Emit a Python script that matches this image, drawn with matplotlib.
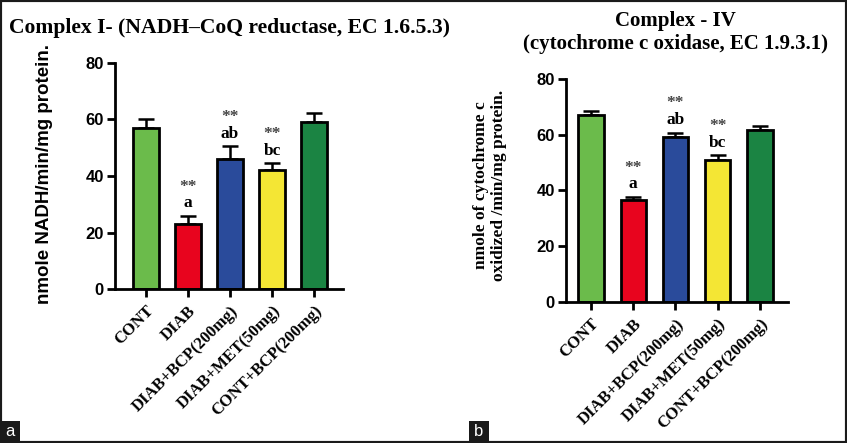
import numpy as np
import matplotlib
matplotlib.use('Agg')
import matplotlib.pyplot as plt
from matplotlib.patches import Rectangle

groups = ['CONT', 'DIAB', 'DIAB+BCP(200mg)', 'DIAB+MET(50mg)', 'CONT+BCP(200mg)']
colors = ['#6bbb4b', '#e8041e', '#2a4b9b', '#f4e634', '#1b8443']

complex1_mean = [57.1, 23.1, 45.9, 42.0, 59.1]
complex1_err = [3.0, 2.8, 4.7, 2.6, 3.1]
complex4_mean = [67.1, 36.5, 59.3, 50.9, 61.7]
complex4_err = [1.5, 1.2, 1.5, 1.7, 1.6]

sig_stars = ['', '**', '**', '**', '']
sig_letters = ['', 'a', 'ab', 'bc', '']

SERIF = ['Liberation Serif', 'DejaVu Serif']
SANS = ['Liberation Sans', 'DejaVu Sans']

fig = plt.figure(figsize=(8.47, 4.43), dpi=100)

def draw_panel(ax, means, errs, xlim):
    x = np.arange(len(groups))
    ax.bar(x, means, width=0.6, color=colors, edgecolor='black', linewidth=2.0, zorder=2)
    ax.errorbar(x, means, yerr=[np.zeros(len(errs)), errs], fmt='none', ecolor='black',
                elinewidth=1.8, capsize=6, capthick=1.8, zorder=1)
    for i in range(len(groups)):
        top = means[i] + errs[i]
        if sig_letters[i]:
            ax.annotate(sig_letters[i], (x[i], top), xytext=(0, 9), textcoords='offset points',
                        ha='center', va='center', fontsize=12.5, fontweight='bold', family=SERIF)
            ax.annotate(sig_stars[i], (x[i], top), xytext=(0, 21), textcoords='offset points',
                        ha='center', va='center', fontsize=12.5, fontweight='bold', family=SERIF,
                        color='#444444')
    ax.set_xlim(*xlim)
    ax.set_ylim(0, 80)
    ax.set_yticks([0, 20, 40, 60, 80])
    ax.set_xticks(x)
    ax.set_xticklabels(groups, rotation=45, ha='right', va='top', rotation_mode='anchor',
                       fontsize=12, fontweight='bold', family=SERIF)
    for lab in ax.get_yticklabels():
        lab.set_fontsize(12)
        lab.set_fontweight('bold')
        lab.set_family(SANS)
    for s in ['top', 'right']:
        ax.spines[s].set_visible(False)
    for s in ['left', 'bottom']:
        ax.spines[s].set_linewidth(2.0)
    ax.tick_params(axis='both', width=2.0, length=6, pad=2)
    ax.tick_params(axis='x', pad=4)

ax1 = fig.add_axes([0.1358, 0.3476, 0.2692, 0.5102])
draw_panel(ax1, complex1_mean, complex1_err, (-0.74, 4.69))
ax2 = fig.add_axes([0.668, 0.3183, 0.2625, 0.5034])
draw_panel(ax2, complex4_mean, complex4_err, (-0.6, 4.67))

fig.text(0.271, 0.937, 'Complex I- (NADH\u2013CoQ reductase, EC 1.6.5.3)', ha='center', va='center',
         fontsize=15.6, fontweight='bold', family=SERIF)
fig.text(0.797, 0.9266, 'Complex - IV\n(cytochrome c oxidase, EC 1.9.3.1)', ha='center', va='center',
         fontsize=15, fontweight='bold', family=SERIF, linespacing=1.2)
fig.text(0.053, 0.607, 'nmole NADH/min/mg protein.', rotation=90, ha='center', va='center',
         fontsize=13.5, fontweight='bold', family=SANS)
fig.text(0.5785, 0.582, 'nmole of cytochrome c\noxidized /min/mg protein.', rotation=90,
         ha='center', va='center', fontsize=12.5, fontweight='bold', family=SERIF, linespacing=1.15)

# panel tags
for xl, tag in [(0.0, 'a'), (469 / 847, 'b')]:
    fig.patches.append(Rectangle((xl, 1 / 443), 20 / 847, 21 / 443, transform=fig.transFigure,
                                 facecolor='#1a1a1a', edgecolor='none'))
    fig.text(xl + 10 / 847, 11.5 / 443, tag, ha='center', va='center', color='white',
             fontsize=12, family=SANS)

fig.patches.append(Rectangle((0, 0), 1, 1, transform=fig.transFigure, fill=False,
                             edgecolor='#1a1a1a', linewidth=3))

plt.savefig('out.png', dpi=100)
